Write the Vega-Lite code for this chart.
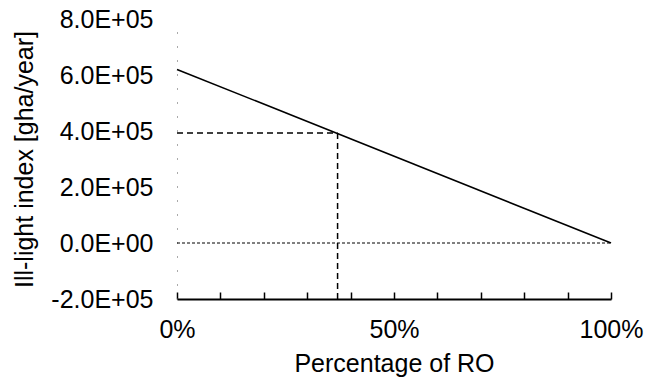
{
  "$schema": "https://vega.github.io/schema/vega-lite/v6.json",
  "width": 434,
  "height": 280,
  "autosize": {"type": "none"},
  "padding": {"left": 177, "top": 19, "right": 45, "bottom": 81},
  "background": "white",
  "config": {
    "view": {"stroke": null},
    "font": "Liberation Sans",
    "axis": {"labelFont": "Liberation Sans", "titleFont": "Liberation Sans", "labelFontSize": 25, "titleFontSize": 25, "titleFontWeight": "normal", "labelColor": "black", "titleColor": "black", "grid": false}
  },
  "datasets": {
    "curve": [{"x": 0, "y": 620000}, {"x": 1, "y": 0}],
    "zero": [{"x": 0, "y": 0}, {"x": 1, "y": 0}],
    "hdash": [{"x": 0, "y": 393000}, {"x": 0.37, "y": 393000}],
    "vdash": [{"x": 0.37, "y": -200000}, {"x": 0.37, "y": 393000}]
  },
  "layer": [
    {
      "data": {"name": "zero"},
      "mark": {"type": "line", "color": "black", "strokeWidth": 1, "strokeDash": [3, 2]},
      "encoding": {
        "x": {"field": "x", "type": "quantitative", "scale": {"domain": [0, 1], "nice": false},
          "axis": {"title": "Percentage of RO", "values": [0, 0.1, 0.2, 0.3, 0.4, 0.5, 0.6, 0.7, 0.8, 0.9, 1], "format": ".0%", "labelExpr": "(round(datum.value*100) % 50 == 0) ? datum.label : ''", "domainColor": "black", "domainWidth": 2, "tickColor": "black", "tickWidth": 1.5, "tickSize": -7, "labelPadding": 25, "titlePadding": 9, "labelFlush": false, "labelOverlap": false}},
        "y": {"field": "y", "type": "quantitative", "scale": {"domain": [-200000, 800000], "nice": false, "zero": false},
          "axis": {"title": "Ill-light index [gha/year]", "values": [-200000, 0, 200000, 400000, 600000, 800000], "labelExpr": "datum.value == 0 ? '0.0E+00' : (datum.value < 0 ? '-' : '') + format(abs(datum.value)/100000, '.1f') + 'E+05'", "ticks": false, "domainColor": "#555", "domainWidth": 1, "domainDash": [1, 13], "labelPadding": 24, "titlePadding": 13}}
      }
    },
    {
      "data": {"name": "curve"},
      "mark": {"type": "line", "color": "black", "strokeWidth": 1.6},
      "encoding": {"x": {"field": "x", "type": "quantitative"}, "y": {"field": "y", "type": "quantitative"}}
    },
    {
      "data": {"name": "hdash"},
      "mark": {"type": "line", "color": "black", "strokeWidth": 1.5, "strokeDash": [6, 4]},
      "encoding": {"x": {"field": "x", "type": "quantitative"}, "y": {"field": "y", "type": "quantitative"}}
    },
    {
      "data": {"name": "vdash"},
      "mark": {"type": "line", "color": "black", "strokeWidth": 1.5, "strokeDash": [6, 4]},
      "encoding": {"x": {"field": "x", "type": "quantitative"}, "y": {"field": "y", "type": "quantitative"}}
    }
  ]
}
